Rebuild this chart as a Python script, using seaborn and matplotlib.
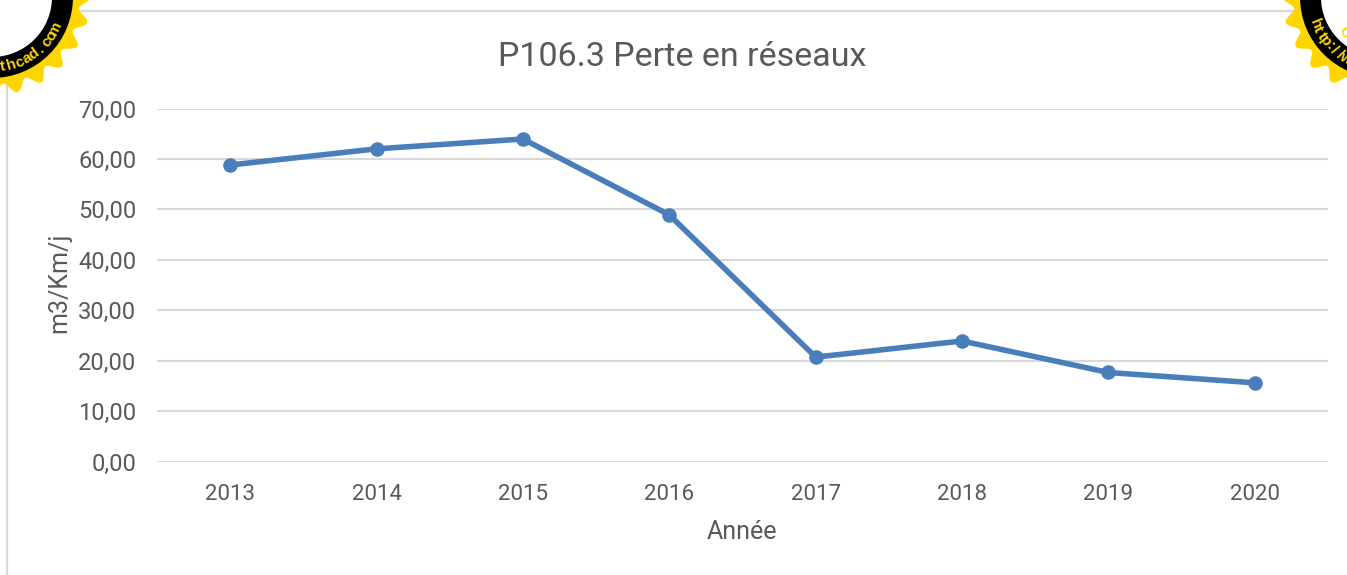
import numpy as np
import pandas as pd
import seaborn as sns
import matplotlib.pyplot as plt
from matplotlib.patches import Circle, Polygon

annees = ["2013", "2014", "2015", "2016", "2017", "2018", "2019", "2020"]
pertes = [58.8, 62.0, 63.95, 48.9, 20.7, 23.9, 17.65, 15.6]
yticks = [0, 10, 20, 30, 40, 50, 60, 70]
ylabels = ["0,00", "10,00", "20,00", "30,00", "40,00", "50,00", "60,00", "70,00"]

W, H = 1347, 575
GRIS = "#595959"
GRILLE = "#D9D9D9"
BLEU = "#4A7EBB"

sns.set_theme(style="whitegrid")
plt.rcParams["font.family"] = ["Roboto", "DejaVu Sans"]

df = pd.DataFrame({"Année": annees, "Perte": pertes})

fig = plt.figure(figsize=(W / 100, H / 100), dpi=100, facecolor="white")
ax = fig.add_axes([157 / W, 1 - 461.5 / H, (1328 - 157) / W, 353 / H])

sns.lineplot(data=df, x="Année", y="Perte", color=BLEU, linewidth=4.0, marker="o",
             markersize=10.5, markeredgecolor=BLEU, markeredgewidth=0, ax=ax, clip_on=False)

ax.set_xlim(-0.5, 7.5)
ax.set_ylim(0, 70)
ax.set_yticks(yticks)
ax.set_yticklabels(ylabels)
ax.tick_params(axis="x", labelsize=16, colors=GRIS, length=0, pad=16)
ax.tick_params(axis="y", labelsize=17, colors=GRIS, length=0, pad=15)
ax.grid(axis="x", visible=False)
ax.grid(axis="y", color=GRILLE, linewidth=1.5)
ax.set_axisbelow(True)
sns.despine(ax=ax, left=True, bottom=True)
ax.set_xlabel("")
ax.set_ylabel("")

# Textes placés en pixels
fig.text(682 / W, 1 - 57 / H, "P106.3 Perte en réseaux", ha="center", va="center",
         fontsize=24.5, color=GRIS)
fig.text(742 / W, 1 - 532 / H, "Année", ha="center", va="center", fontsize=18, color=GRIS)
fig.text(59 / W, 1 - 283 / H, "m3/Km/j", ha="center", va="center", rotation=90,
         fontsize=18, color=GRIS)

# Calque en pixels pour le cadre et les badges
deco = fig.add_axes([0, 0, 1, 1], facecolor="none")
deco.set_xlim(0, W)
deco.set_ylim(H, 0)
deco.axis("off")
deco.plot([7, 7, W], [H, 10.5, 10.5], color=GRILLE, linewidth=1.6)


def badge(cx, cy, lettres, angles):
    t = np.linspace(0, 2 * np.pi, 1440)
    r = 93 + 5.5 * np.cos(24 * t)
    deco.add_patch(Polygon(np.c_[cx + r * np.cos(t), cy + r * np.sin(t)], color="#FFD500", lw=0, zorder=5))
    deco.add_patch(Circle((cx, cy), 81, color="black", lw=0, zorder=6))
    deco.add_patch(Circle((cx, cy), 60, color="white", lw=0, zorder=7))
    for c, a in zip(lettres, angles):
        x = cx + 71 * np.cos(np.radians(a))
        y = cy + 71 * np.sin(np.radians(a))
        deco.text(x, y, c, rotation=90 - a, rotation_mode="anchor", ha="center", va="center",
                  fontsize=11, fontweight="bold", color="#FFD500", family="Liberation Sans", zorder=8)


badge(-8, -3, "thcad.com", np.linspace(81, 26, 9))
badge(1381, -3, "http://w", np.linspace(158, 120, 8))
deco.text(1345, 32, "C", rotation=-55, ha="center", va="center", fontsize=11, fontweight="bold",
          color="#FFD500", family="Liberation Sans", zorder=9)

fig.savefig("out.png", dpi=100)
